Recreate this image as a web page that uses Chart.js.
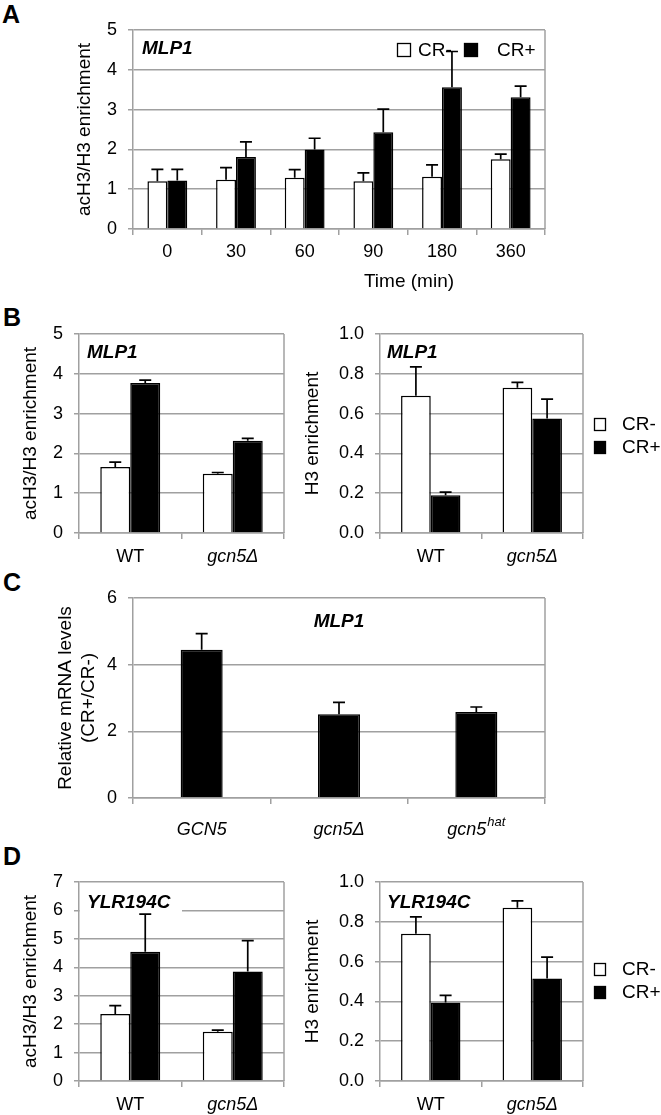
<!DOCTYPE html>
<html><head><meta charset="utf-8">
<script src="https://cdn.jsdelivr.net/npm/chart.js@4.4.1/dist/chart.umd.min.js"></script>
<style>
html,body{margin:0;padding:0;background:#fff;}
body{width:661px;height:1115px;position:relative;overflow:hidden;font-family:"Liberation Sans",Arial,sans-serif;}
canvas{position:absolute;}
.pl{position:absolute;font-weight:bold;font-size:25px;line-height:1;color:#000;}
</style></head><body>
<div class="pl" style="left:2px;top:2px">A</div>
<div class="pl" style="left:3px;top:305px">B</div>
<div class="pl" style="left:3px;top:570px">C</div>
<div class="pl" style="left:3px;top:844px">D</div>
<canvas id="cA" width="661" height="300" style="left:0;top:0;width:661px;height:300px"></canvas>
<canvas id="cB1" width="300" height="280" style="left:0;top:300px;width:300px;height:280px"></canvas>
<canvas id="cB2" width="361" height="280" style="left:300px;top:300px;width:361px;height:280px"></canvas>
<canvas id="cC" width="661" height="290" style="left:0;top:560px;width:661px;height:290px"></canvas>
<canvas id="cD1" width="300" height="265" style="left:0;top:850px;width:300px;height:265px"></canvas>
<canvas id="cD2" width="361" height="265" style="left:300px;top:850px;width:361px;height:265px"></canvas>
<script>
// ---------- DATA ----------
const seriesNames = ['CR-', 'CR+'];

// Panel A: MLP1 acH3/H3 over time
const timeLabels = ['0', '30', '60', '90', '180', '360'];
const aMinus    = [1.20, 1.24, 1.29, 1.20, 1.31, 1.75];
const aMinusErr = [0.30, 0.30, 0.20, 0.21, 0.30, 0.13];
const aPlus     = [1.22, 1.81, 2.00, 2.43, 3.56, 3.31];
const aPlusErr  = [0.28, 0.38, 0.28, 0.58, 0.90, 0.28];
const aTicks    = [0, 1, 2, 3, 4, 5];

// Panel B: MLP1, WT vs gcn5Δ
const strainLabels = ['WT', 'gcn5Δ'];
const b1Minus    = [1.66, 1.49];
const b1MinusErr = [0.12, 0.03];
const b1Plus     = [3.77, 2.32];
const b1PlusErr  = [0.07, 0.06];
const b2Minus    = [0.69, 0.73];
const b2MinusErr = [0.145, 0.027];
const b2Plus     = [0.19, 0.575];
const b2PlusErr  = [0.015, 0.098];

// Panel C: relative mRNA levels
const cLabels = ['GCN5', 'gcn5Δ', 'gcn5^hat'];
const cValues = [4.45, 2.51, 2.58];
const cErr    = [0.48, 0.36, 0.15];

// Panel D: YLR194C
const d1Minus    = [2.36, 1.73];
const d1MinusErr = [0.29, 0.06];
const d1Plus     = [4.55, 3.85];
const d1PlusErr  = [1.32, 1.09];
const d2Minus    = [0.74, 0.87];
const d2MinusErr = [0.085, 0.035];
const d2Plus     = [0.395, 0.515];
const d2PlusErr  = [0.035, 0.107];

// ---------- STYLE ----------
const FF = '"Liberation Sans", Arial, Helvetica, sans-serif';
const GRID = '#a0a0a0';
const TICK_SIZE = 18, TITLE_SIZE = 19, LAB_SIZE = 18;
Chart.defaults.font.family = FF;
Chart.defaults.color = '#000';

function decor(o) {
  return {
    id: 'decor',
    beforeDatasetsDraw(chart) {
      const ctx = chart.ctx, a = chart.chartArea;
      ctx.save();
      ctx.strokeStyle = GRID; ctx.lineWidth = 1.5;
      ctx.beginPath(); ctx.moveTo(a.right, a.top); ctx.lineTo(a.right, a.bottom); ctx.stroke();
      if (o.whiteBox) { ctx.fillStyle = '#fff'; ctx.fillRect(a.left + 1, a.top + 1, o.whiteBox[0], o.whiteBox[1]); }
      ctx.fillStyle = '#000';
      ctx.font = 'italic bold 19px ' + FF;
      ctx.textBaseline = 'middle';
      if (o.geneCenter) { ctx.textAlign = 'center'; ctx.fillText(o.gene, (a.left + a.right) / 2, a.top + o.geneDy); }
      else { ctx.textAlign = 'left'; ctx.fillText(o.gene, a.left + o.geneDx, a.top + o.geneDy); }
      if (o.legendInside) {
        const L = o.legendInside, ds = chart.data.datasets;
        ctx.font = TITLE_SIZE + 'px ' + FF; ctx.textAlign = 'left';
        L.forEach((p, i) => {
          ctx.fillStyle = ds[i].backgroundColor; ctx.fillRect(p[0], p[1], 14, 14);
          ctx.strokeStyle = '#000'; ctx.lineWidth = 1.3; ctx.strokeRect(p[0] + 0.5, p[1] + 0.5, 13, 13);
          ctx.fillStyle = '#000'; ctx.fillText(ds[i].label, p[2], p[1] + 8);
        });
      }
      ctx.restore();
    },
    afterDatasetsDraw(chart) {
      const ctx = chart.ctx, ys = chart.scales.y;
      ctx.save(); ctx.strokeStyle = '#000'; ctx.lineWidth = 1.7;
      chart.data.datasets.forEach((ds, di) => {
        const meta = chart.getDatasetMeta(di);
        meta.data.forEach((bar, i) => {
          const v = ds.data[i], e = ds.err[i];
          const x = bar.x;
          const y0 = ys.getPixelForValue(v), y1 = ys.getPixelForValue(v + e);
          ctx.beginPath(); ctx.moveTo(x, y0); ctx.lineTo(x, y1);
          ctx.moveTo(x - 6, y1); ctx.lineTo(x + 6, y1); ctx.stroke();
        });
      });
      ctx.restore();
    },
    afterDraw(chart) {
      const ctx = chart.ctx, xs = chart.scales.x, a = chart.chartArea;
      ctx.save(); ctx.fillStyle = '#000'; ctx.textBaseline = 'middle'; ctx.textAlign = 'left';
      chart.data.labels.forEach((lab, i) => {
        const x = xs.getPixelForValue(i);
        const it = o.italic(lab) ? 'italic ' : '';
        const parts = lab.split('^');
        ctx.font = it + LAB_SIZE + 'px ' + FF;
        const bw = ctx.measureText(parts[0]).width;
        let sw = 0;
        if (parts[1]) { ctx.font = it + '13px ' + FF; sw = ctx.measureText(parts[1]).width + 1; }
        const x0 = x - (bw + sw) / 2, y = a.bottom + o.labDy;
        ctx.font = it + LAB_SIZE + 'px ' + FF; ctx.fillText(parts[0], x0, y);
        if (parts[1]) { ctx.font = it + '13px ' + FF; ctx.fillText(parts[1], x0 + bw + 1, y - 8); }
      });
      if (o.xTitle) {
        ctx.font = TITLE_SIZE + 'px ' + FF; ctx.textAlign = 'center';
        ctx.fillText(o.xTitle[0], o.xTitle[1], o.xTitle[2]);
      }
      if (o.legendOutside) {
        const ds = chart.data.datasets, L = o.legendOutside;
        ctx.font = TITLE_SIZE + 'px ' + FF; ctx.textAlign = 'left';
        ds.forEach((d, i) => {
          const yc = a.top + L[1] + i * L[2];
          ctx.fillStyle = d.backgroundColor; ctx.fillRect(a.right + L[0], yc - 6, 12, 13);
          ctx.strokeStyle = '#000'; ctx.lineWidth = 1.3; ctx.strokeRect(a.right + L[0] + 0.5, yc - 5.5, 11, 12);
          ctx.fillStyle = '#000'; ctx.fillText(d.label, a.right + L[0] + 28, yc + 1);
        });
      }
      ctx.restore();
    }
  };
}

function build(id, o) {
  const fills = ['#ffffff', '#000000'];
  const datasets = o.series.map((s, i) => ({
    label: s[0], data: s[1], err: s[2], backgroundColor: s[3] || fills[i],
    borderColor: '#000', borderWidth: 1.5, barPercentage: 1, categoryPercentage: o.catPct
  }));
  return new Chart(document.getElementById(id), {
    type: 'bar',
    data: { labels: o.labels, datasets },
    options: {
      responsive: false, animation: false, events: [],
      layout: { padding: { left: 0, top: o.top, right: o.right, bottom: 0 } },
      plugins: { legend: { display: false }, tooltip: { enabled: false } },
      scales: {
        x: {
          type: 'category', offset: true,
          grid: { display: true, drawOnChartArea: false, drawTicks: true, tickLength: 6, color: GRID, lineWidth: 1.5, offset: true },
          border: { display: true, color: GRID, width: 1.5 },
          ticks: { display: false },
          afterFit: s => { s.height = o.xh; }
        },
        y: {
          min: 0, max: o.max,
          ticks: { stepSize: o.step, padding: 11, color: '#000', font: { family: FF, size: TICK_SIZE },
                   callback: v => o.fmt(v) },
          grid: { color: GRID, lineWidth: 1.5, tickLength: 5 },
          border: { display: true, color: GRID, width: 1.5 },
          title: { display: true, text: o.ytitle, color: '#000', font: { family: FF, size: TITLE_SIZE, lineHeight: 1.2 },
                   padding: { top: o.tpad, bottom: 0 } },
          afterFit: s => { s.width = o.yw; }
        }
      }
    },
    plugins: [decor(o)]
  });
}

const int = v => String(Math.round(v));
const one = v => Number(v).toFixed(1);
const strainItalic = l => l !== 'WT';

build('cA', {
  labels: timeLabels, catPct: 0.58,
  series: [[seriesNames[0], aMinus, aMinusErr], [seriesNames[1], aPlus, aPlusErr]],
  top: 30, right: 116, xh: 71, yw: 133, max: aTicks[aTicks.length - 1], step: 1, fmt: int,
  ytitle: 'acH3/H3 enrichment', tpad: 73.6,
  gene: 'MLP1', geneDx: 9, geneDy: 19,
  legendInside: [[397, 43, 418], [464, 43, 497]],
  italic: () => false, labDy: 23, xTitle: ['Time (min)', 409, 282]
});
build('cB1', {
  labels: strainLabels, catPct: 0.585,
  series: [[seriesNames[0], b1Minus, b1MinusErr], [seriesNames[1], b1Plus, b1PlusErr]],
  top: 34, right: 16, xh: 47, yw: 79, max: 5, step: 1, fmt: int,
  ytitle: 'acH3/H3 enrichment', tpad: 19.6,
  gene: 'MLP1', geneDx: 8, geneDy: 19,
  italic: strainItalic, labDy: 24
});
build('cB2', {
  labels: strainLabels, catPct: 0.585,
  series: [[seriesNames[0], b2Minus, b2MinusErr], [seriesNames[1], b2Plus, b2PlusErr]],
  top: 34, right: 78, xh: 47, yw: 80, max: 1, step: 0.2, fmt: one,
  ytitle: 'H3 enrichment', tpad: 1.1,
  gene: 'MLP1', geneDx: 7, geneDy: 19,
  legendOutside: [11, 90, 23],
  italic: strainItalic, labDy: 24
});
build('cC', {
  labels: cLabels, catPct: 0.306,
  series: [['CR+/CR-', cValues, cErr, '#000000']],
  top: 38, right: 116, xh: 52, yw: 133, max: 6, step: 2, fmt: int,
  ytitle: ['Relative mRNA levels', '(CR+/CR-)'], tpad: 54.6,
  gene: 'MLP1', geneCenter: true, geneDy: 24,
  italic: () => true, labDy: 32
});
build('cD1', {
  labels: strainLabels, catPct: 0.585,
  series: [[seriesNames[0], d1Minus, d1MinusErr], [seriesNames[1], d1Plus, d1PlusErr]],
  top: 32, right: 16, xh: 34, yw: 79, max: 7, step: 1, fmt: int,
  ytitle: 'acH3/H3 enrichment', tpad: 19.6,
  gene: 'YLR194C', geneDx: 8, geneDy: 21, whiteBox: [102, 30],
  italic: strainItalic, labDy: 24
});
build('cD2', {
  labels: strainLabels, catPct: 0.585,
  series: [[seriesNames[0], d2Minus, d2MinusErr], [seriesNames[1], d2Plus, d2PlusErr]],
  top: 32, right: 78, xh: 34, yw: 80, max: 1, step: 0.2, fmt: one,
  ytitle: 'H3 enrichment', tpad: 1.1,
  gene: 'YLR194C', geneDx: 7, geneDy: 21,
  legendOutside: [11, 87, 23],
  italic: strainItalic, labDy: 24
});
</script>
</body></html>
